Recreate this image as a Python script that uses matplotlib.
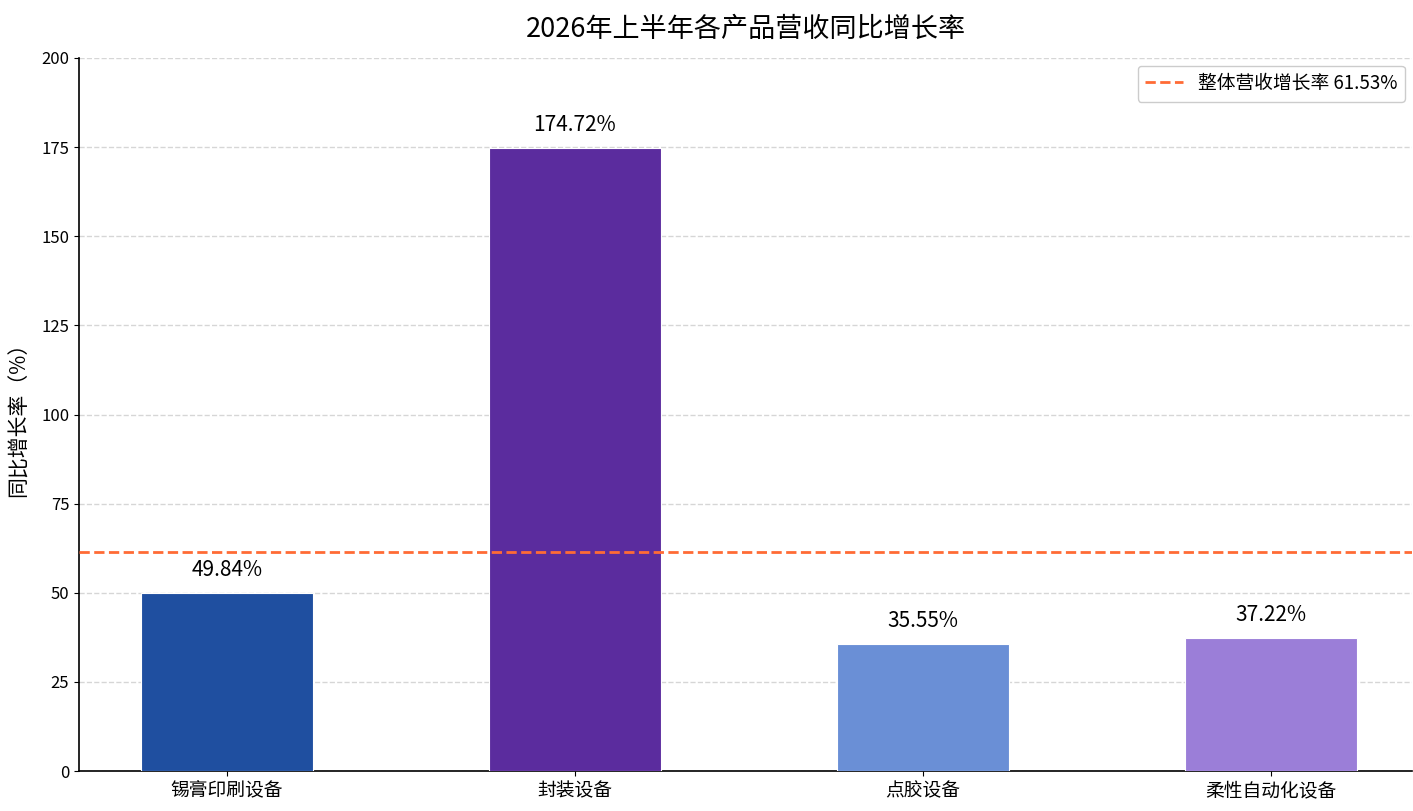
import matplotlib
matplotlib.use("Agg")
import matplotlib.pyplot as plt

plt.rcParams['font.family'] = ['Noto Sans CJK SC', 'DejaVu Sans']
plt.rcParams['axes.unicode_minus'] = False

categories = ['锡膏印刷设备', '封装设备', '点胶设备', '柔性自动化设备']
growth = [49.84, 174.72, 35.55, 37.22]
colors = ['#1F4FA0', '#5B2C9E', '#6A8FD6', '#9B7ED8']
overall = 61.53
title = '2026年上半年各产品营收同比增长率'
ylabel = '同比增长率（%）'
legend_label = f'整体营收增长率 {overall}%'
yticks = [0, 25, 50, 75, 100, 125, 150, 175, 200]

fig = plt.figure(figsize=(14.13, 8.11), dpi=100)
ax = fig.add_axes([79/1413, 40/811, (1412-79)/1413, (771-58)/811])

x = list(range(len(categories)))
bars = ax.bar(x, growth, width=0.495, color=colors, edgecolor='white', linewidth=0.8, zorder=3)
ax.axhline(overall, color='#FF6B35', linestyle='--', linewidth=2, label=legend_label, zorder=4)

for xi, v in zip(x, growth):
    ax.text(xi, v + 3.5, f'{v:.2f}%', ha='center', va='bottom', fontsize=15, zorder=5)

ax.set_xlim(-0.425, 3.405)
ax.set_ylim(0, 200)
ax.set_yticks(yticks)
ax.set_xticks(x)
ax.set_xticklabels(categories, fontsize=13.5)
ax.tick_params(axis='y', labelsize=12)
ax.set_ylabel(ylabel, fontsize=15, labelpad=8)
ax.set_title(title, fontsize=19.5, pad=15)
ax.yaxis.grid(True, linestyle='--', color='#CCCCCC', alpha=0.8, linewidth=1, zorder=0)
ax.set_axisbelow(True)
for s in ['top', 'right']:
    ax.spines[s].set_visible(False)
ax.spines['left'].set_linewidth(1.2)
ax.spines['bottom'].set_linewidth(1.2)
ax.legend(loc='upper right', fontsize=13.5, framealpha=1, edgecolor='#CCCCCC', fancybox=True,
          borderaxespad=0.4)

fig.savefig('out.png', dpi=100)
